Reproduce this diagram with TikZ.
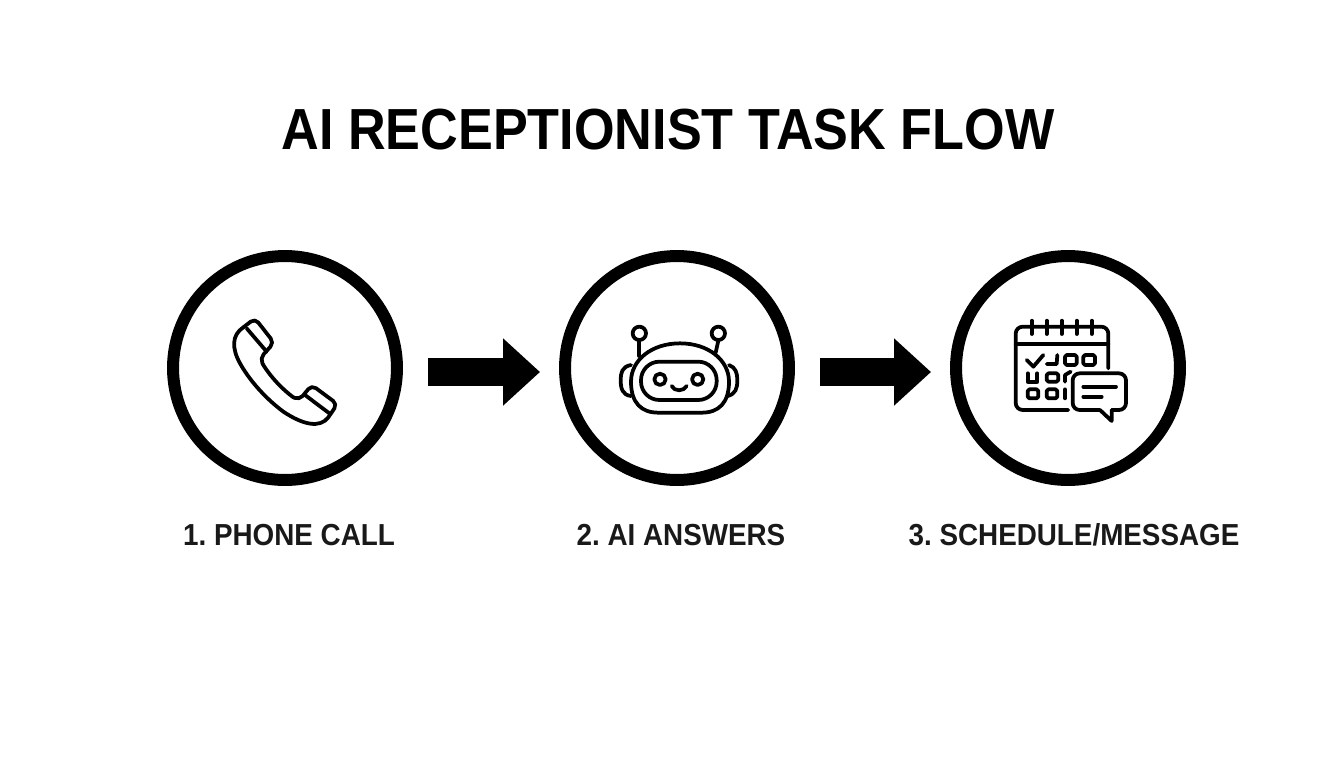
\documentclass[tikz,border=0pt]{standalone}
\usepackage{fontspec}
\setmainfont{Liberation Sans}
\newfontfamily\titlefont[FakeStretch=0.9]{Liberation Sans}
\newfontfamily\labelfont[FakeStretch=0.915]{Liberation Sans}
\usetikzlibrary{arrows.meta}
\tikzset{
  stepcircle/.style={draw=black,circle,line width=0.24cm,minimum size=4.48cm,inner sep=0pt},
  flowarrow/.style={-{Triangle[length=0.74cm,width=1.3cm]},line width=0.56cm,shorten <=0.5cm,shorten >=0.38cm},
  steplabel/.style={font=\labelfont\fontsize{17.3}{20}\selectfont\bfseries\frenchspacing,text=black!90},
  icon/.style={line width=0.075cm,line join=round,line cap=round},
  iconunits/.style={x=0.00667cm,y=-0.00667cm}
}
\begin{document}
\begin{tikzpicture}[x=0.02cm,y=-0.02cm]
  \useasboundingbox (0,0) rectangle (1344,768);
  \node (title) at (668,130) {\titlefont\fontsize{33}{38}\selectfont\bfseries AI RECEPTIONIST TASK FLOW};
  \node [stepcircle] (c1) at (285,368) {};
  \node [stepcircle] (c2) at (677,368) {};
  \node [stepcircle] (c3) at (1068,368) {};
  \node [steplabel] (l1) at (289,535) {1. PHONE CALL};
  \node [steplabel] (l2) at (681,535) {2. AI ANSWERS};
  \node [steplabel] (l3) at (1074,535) {3. SCHEDULE/MESSAGE};
  \draw [flowarrow] ([yshift=-0.08cm]c1.east) -- ([yshift=-0.08cm]c2.west);
  \draw [flowarrow] ([yshift=-0.08cm]c2.east) -- ([yshift=-0.08cm]c3.west);
  \begin{scope}[shift={(210,300)},iconunits,icon]
    \draw [rounded corners=3pt] (100,82) -- (135,55) -- (192,128) -- (150,175) -- (160,195);
    \draw (160,195) .. controls (185,235) and (220,270) .. (250,292);
    \draw [rounded corners=3pt] (250,292) -- (268,300) -- (305,255) -- (382,312) -- (355,352);
    \draw (355,352) .. controls (330,385) and (280,375) .. (220,335) .. controls (160,290) and (115,235) .. (90,190) .. controls (65,145) and (65,105) .. (100,82);
    \draw (110,85) -- (170,155);
    \draw (285,285) -- (358,340);
  \end{scope}
  \begin{scope}[shift={(605,310)},iconunits,icon]
    \draw (225,100) .. controls (140,100) and (78,150) .. (78,215) .. controls (78,280) and (110,308) .. (160,308) -- (290,308) .. controls (340,308) and (372,280) .. (372,215) .. controls (372,150) and (310,100) .. (225,100);
    \draw [rounded corners=10.5pt] (108,155) rectangle (335,270);
    \draw (165,208) circle (17);
    \draw (278,208) circle (17);
    \draw (200,228) .. controls (208,245) and (236,245) .. (245,228);
    \draw (103,70) circle (20);
    \draw (340,70) circle (20);
    \draw (103,92) -- (103,138);
    \draw (340,92) -- (332,128);
    \draw (78,165) .. controls (50,170) and (47,190) .. (47,210) .. controls (47,235) and (52,255) .. (78,258);
    \draw (372,165) .. controls (392,172) and (397,190) .. (397,210) .. controls (397,235) and (392,252) .. (368,258);
  \end{scope}
  \begin{scope}[shift={(1000,310)},iconunits,icon]
    \draw [rounded corners=4pt] (205,300) -- (47,300) -- (47,50) -- (325,50) -- (325,175);
    \draw (47,103) -- (325,103);
    \foreach \x in {95,140,185,230,275} \draw (\x,32) -- (\x,72);
    \draw (80,150) -- (100,170) -- (130,135);
    \draw (140,162) -- (170,162) -- (172,135);
    \draw [rounded corners=1pt] (195,135) rectangle (230,165);
    \draw [rounded corners=1pt] (250,135) rectangle (285,165);
    \draw (83,190) -- (83,215) -- (112,215) -- (112,190);
    \draw [rounded corners=1pt] (140,190) rectangle (175,215);
    \draw (195,215) -- (195,195) -- (212,185);
    \draw [rounded corners=1pt] (83,238) rectangle (115,265);
    \draw [rounded corners=1pt] (140,238) rectangle (172,265);
    \draw (195,238) -- (195,265);
    \draw [rounded corners=4pt] (300,300) -- (218,300) -- (218,190) -- (378,190) -- (378,300) -- (335,300);
    \draw (300,300) -- (335,333) -- (335,300);
    \draw (250,230) -- (348,230);
    \draw (250,260) -- (305,260);
  \end{scope}
\end{tikzpicture}
\end{document}
